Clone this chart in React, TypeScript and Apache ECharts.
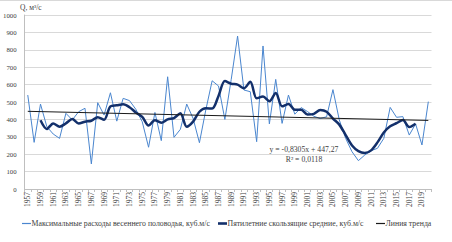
import React, { useEffect, useRef } from "react";
import * as echarts from "echarts";

const years: string[] = [
  "1957","1958","1959","1960","1961","1962","1963","1964","1965","1966",
  "1967","1968","1969","1970","1971","1972","1973","1974","1975","1976",
  "1977","1978","1979","1980","1981","1982","1983","1984","1985","1986",
  "1987","1988","1989","1990","1991","1992","1993","1994","1995","1996",
  "1997","1998","1999","2000","2001","2002","2003","2004","2005","2006",
  "2007","2008","2009","2010","2011","2012","2013","2014","2015","2016",
  "2017","2018","2019","2020",
];

const maxFlow: number[] = [
  540, 268, 488, 358, 316, 291, 435, 397, 444, 464,
  144, 496, 425, 553, 390, 521, 508, 458, 387, 240,
  440, 278, 645, 297, 343, 488, 406, 266, 454, 622,
  592, 400, 630, 879, 569, 559, 272, 822, 374, 630,
  377, 540, 430, 468, 445, 418, 405, 415, 571, 397,
  291, 214, 163, 195, 220, 234, 291, 469, 412, 416,
  310, 374, 253, 502,
];

const movingAvg: (number | null)[] = [
  null, null, 395, 345, 377, 358, 377, 402, 377, 387,
  392, 413, 398, 475, 481, 487, 470, 440, 415, 365,
  395, 381, 400, 408, 435, 358, 387, 444, 464, 462,
  535, 620, 605, 600, 579, 617, 521, 531, 505, 552,
  475, 489, 455, 456, 428, 432, 454, 444, 405, 370,
  310, 250, 218, 207, 222, 268, 325, 360, 378, 396,
  356, 375, null, null,
];

// trend line endpoints (first and last year)
const trendStart = 446.4;
const trendEnd = 394.1;

const yTicks = { min: 0, max: 1000, interval: 100 };

const seriesNames = [
  "Максимальные расходы весеннего половодья, куб.м/с",
  "Пятилетние скользящие средние, куб.м/с",
  "Линия тренда",
];

const equationText = "y = -0,8305x + 447,27";
const r2Text = "R² = 0,0118";
const yTitle = "Q, м³/с";

const FONT = "'Liberation Serif', 'Times New Roman', serif";
const THIN = "#4a86cf";
const BOLD = "#13306b";
const TREND = "#1a1a1a";
const TEXT = "#404040";

export default function App() {
  const ref = useRef<HTMLDivElement>(null);

  useEffect(() => {
    document.body.style.margin = "0";
    if (!ref.current) return;
    const chart = echarts.init(ref.current, undefined, { renderer: "svg" });

    const trend: (number | null)[] = years.map((_, i) =>
      i === 0 ? trendStart : i === years.length - 1 ? trendEnd : null
    );

    const legendY = 223.5;
    const legendFont = 7.8;
    const legendText = (x: number, text: string) => ({
      type: "text",
      x,
      y: legendY,
      style: {
        text,
        fontSize: legendFont,
        fontFamily: FONT,
        fill: TEXT,
        textVerticalAlign: "middle",
      },
    });

    chart.setOption({
      animation: false,
      backgroundColor: "#ffffff",
      grid: { left: 22.5, right: 20.5, top: 15, bottom: 53 },
      textStyle: { fontFamily: FONT },
      xAxis: {
        type: "category",
        data: years,
        boundaryGap: true,
        axisLine: { lineStyle: { color: "#bfbfbf", width: 1 } },
        axisTick: { show: true, interval: 0, length: 3, lineStyle: { color: "#bfbfbf" } },
        axisLabel: {
          interval: 1,
          rotate: 90,
          fontSize: 7.5,
          fontFamily: FONT,
          color: TEXT,
          margin: 3,
        },
        splitLine: { show: false },
      },
      yAxis: {
        type: "value",
        min: yTicks.min,
        max: yTicks.max,
        interval: yTicks.interval,
        axisLine: { show: true, lineStyle: { color: "#bfbfbf", width: 1 } },
        axisTick: { show: false },
        axisLabel: {
          fontSize: 6.8,
          fontFamily: FONT,
          color: TEXT,
          margin: 8,
          formatter: (v: number) => String(v),
        },
        splitLine: { lineStyle: { color: "#d9d9d9", width: 1 } },
      },
      series: [
        {
          name: seriesNames[0],
          type: "line",
          data: maxFlow,
          symbol: "none",
          lineStyle: { color: THIN, width: 1 },
          itemStyle: { color: THIN },
          z: 2,
        },
        {
          name: seriesNames[1],
          type: "line",
          data: movingAvg,
          symbol: "none",
          smooth: 0.3,
          lineStyle: { color: BOLD, width: 2.5 },
          itemStyle: { color: BOLD },
          z: 3,
        },
        {
          name: seriesNames[2],
          type: "line",
          data: trend,
          connectNulls: true,
          symbol: "none",
          lineStyle: { color: TREND, width: 1 },
          itemStyle: { color: TREND },
          z: 4,
        },
      ],
      graphic: [
        {
          type: "line",
          shape: { x1: 0, y1: 0.5, x2: 452, y2: 0.5 },
          style: { stroke: "#d9d9d9", lineWidth: 1 },
        },
        {
          type: "text",
          left: 20,
          top: 3,
          style: { text: yTitle, fontSize: 7.5, fontFamily: FONT, fill: TEXT },
        },
        {
          type: "text",
          x: 304,
          y: 149,
          style: {
            text: equationText,
            fontSize: 7.7,
            fontFamily: FONT,
            fill: TEXT,
            textAlign: "center",
            textVerticalAlign: "middle",
          },
        },
        {
          type: "text",
          x: 304,
          y: 159,
          style: {
            text: r2Text,
            fontSize: 7.7,
            fontFamily: FONT,
            fill: TEXT,
            textAlign: "center",
            textVerticalAlign: "middle",
          },
        },
        // legend
        {
          type: "line",
          shape: { x1: 22, y1: legendY, x2: 31, y2: legendY },
          style: { stroke: THIN, lineWidth: 1.2 },
        },
        legendText(31.5, seriesNames[0]),
        {
          type: "rect",
          shape: { x: 218, y: legendY - 1.3, width: 9, height: 2.6 },
          style: { fill: BOLD },
        },
        legendText(227.5, seriesNames[1]),
        {
          type: "line",
          shape: { x1: 376, y1: legendY, x2: 385, y2: legendY },
          style: { stroke: TREND, lineWidth: 1.2 },
        },
        legendText(385.5, seriesNames[2]),
      ],
    });

    return () => chart.dispose();
  }, []);

  return <div ref={ref} style={{ width: 452, height: 242 }} />;
}
